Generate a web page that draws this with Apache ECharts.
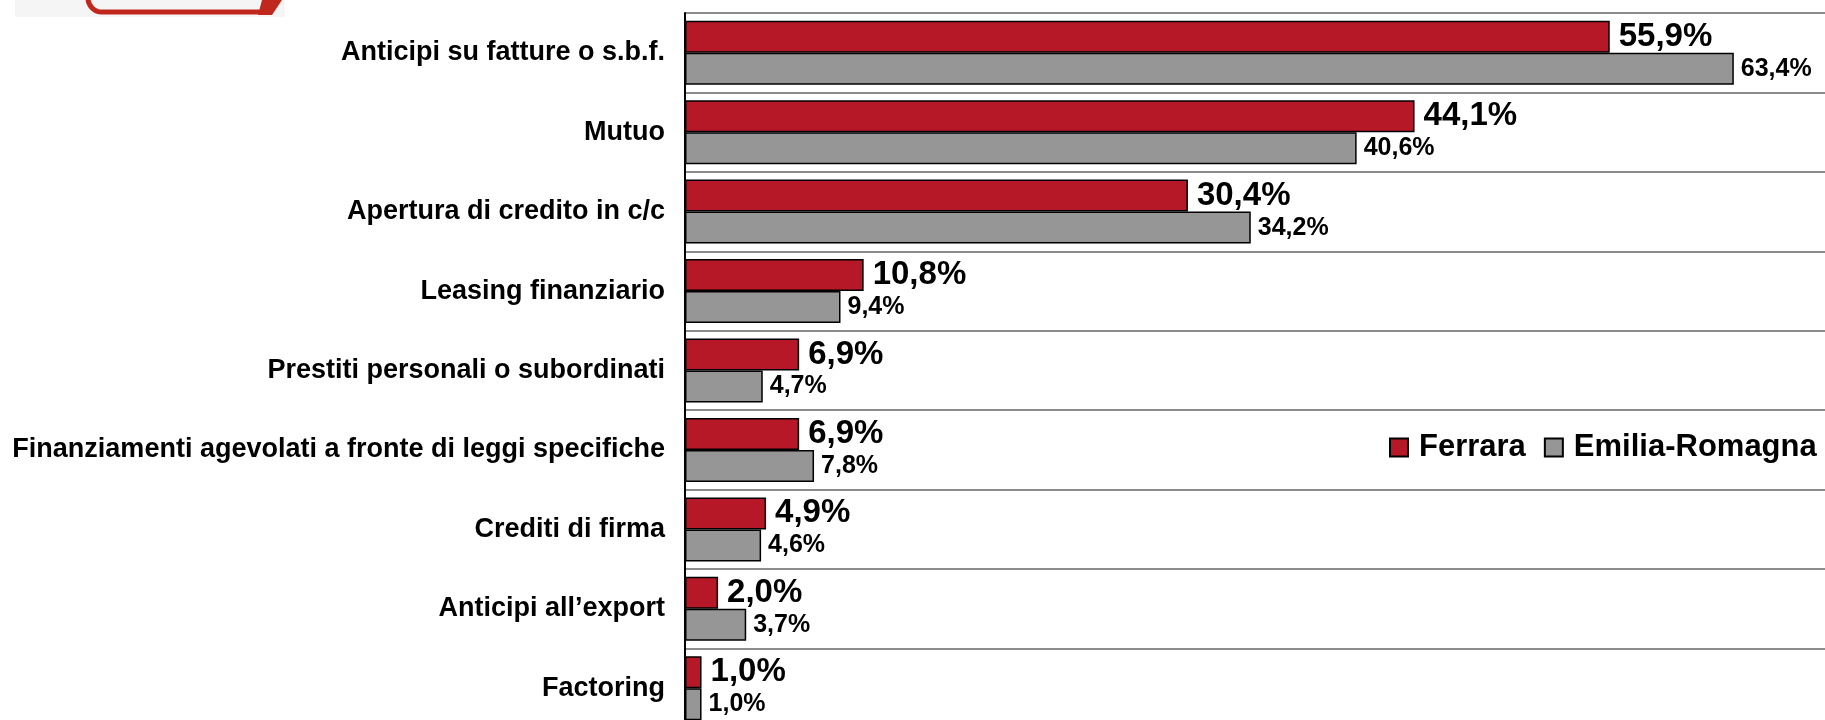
<!DOCTYPE html>
<html>
<head>
<meta charset="utf-8">
<script src="https://cdn.jsdelivr.net/npm/echarts@6/dist/echarts.min.js"></script>
<style>
  html, body { margin: 0; padding: 0; background: #fff; }
  #chart { width: 1825px; height: 720px; }
</style>
</head>
<body>
<div id="chart"></div>
<script>
// categorie, dall'alto verso il basso
const categories = [
  'Anticipi su fatture o s.b.f.',
  'Mutuo',
  'Apertura di credito in c/c',
  'Leasing finanziario',
  'Prestiti personali o subordinati',
  'Finanziamenti agevolati a fronte di leggi specifiche',
  'Crediti di firma',
  'Anticipi all\u2019export',
  'Factoring'
];
const ferrara = [55.9, 44.1, 30.4, 10.8, 6.9, 6.9, 4.9, 2.0, 1.0];
const emiliaRomagna = [63.4, 40.6, 34.2, 9.4, 4.7, 7.8, 4.6, 3.7, 1.0];
const seriesNames = ['Ferrara', 'Emilia-Romagna'];

const FONT = '"Liberation Sans", Arial, sans-serif';

function fmt(p) {
  return p.value.toFixed(1).replace('.', ',') + '%';
}

const chart = echarts.init(document.getElementById('chart'));

chart.setOption({
  animation: false,
  backgroundColor: '#fff',
  grid: {
    left: 685,
    top: 13,
    width: 1158,
    height: 715,
    outerBoundsMode: 'none' // il grafico originale e' tagliato a destra e in basso
  },
  legend: {
    data: seriesNames,
    left: 1384,
    top: 427,
    itemWidth: 18,
    itemHeight: 18,
    itemGap: 18,
    icon: 'rect',
    textStyle: {
      fontFamily: FONT,
      fontWeight: 'bold',
      fontSize: 31,
      color: '#000',
      padding: [0, 0, 0, 6]
    }
  },
  xAxis: {
    type: 'value',
    min: 0,
    max: 70,
    show: false
  },
  yAxis: {
    type: 'category',
    data: categories,
    inverse: true,
    axisLine: { lineStyle: { color: '#000', width: 2 } },
    axisTick: { length: 8, lineStyle: { color: '#000', width: 2 } },
    axisLabel: {
      margin: 20,
      fontFamily: FONT,
      fontWeight: 'bold',
      fontSize: 27,
      color: '#000'
    },
    splitLine: { show: true, lineStyle: { color: '#8c8c8c', width: 2 } }
  },
  series: [
    {
      name: seriesNames[0],
      type: 'bar',
      data: ferrara,
      barWidth: 32,
      barGap: '0%',
      itemStyle: { color: '#b71827', borderColor: '#000', borderWidth: 1.5 },
      label: {
        show: true,
        position: 'right',
        distance: 9,
        formatter: fmt,
        fontFamily: FONT,
        fontWeight: 'bold',
        fontSize: 33,
        color: '#000'
      }
    },
    {
      name: seriesNames[1],
      type: 'bar',
      data: emiliaRomagna,
      barWidth: 32,
      itemStyle: { color: '#969696', borderColor: '#000', borderWidth: 1.5 },
      label: {
        show: true,
        position: 'right',
        distance: 7,
        formatter: fmt,
        fontFamily: FONT,
        fontWeight: 'bold',
        fontSize: 25,
        color: '#000'
      }
    }
  ],
  // frammento del logo in alto a sinistra
  graphic: [
    { type: 'rect', shape: { x: 15, y: 0, width: 270, height: 17 }, style: { fill: '#f5f5f5' }, z: -1 },
    {
      type: 'rect',
      shape: { x: 88, y: -70, width: 185, height: 82, r: 14 },
      style: { fill: null, stroke: '#c0281e', lineWidth: 5 }
    },
    {
      type: 'polygon',
      shape: { points: [[262, 0], [282, 0], [272, 15], [258, 15]] },
      style: { fill: '#c0281e' }
    }
  ]
});
</script>
</body>
</html>
